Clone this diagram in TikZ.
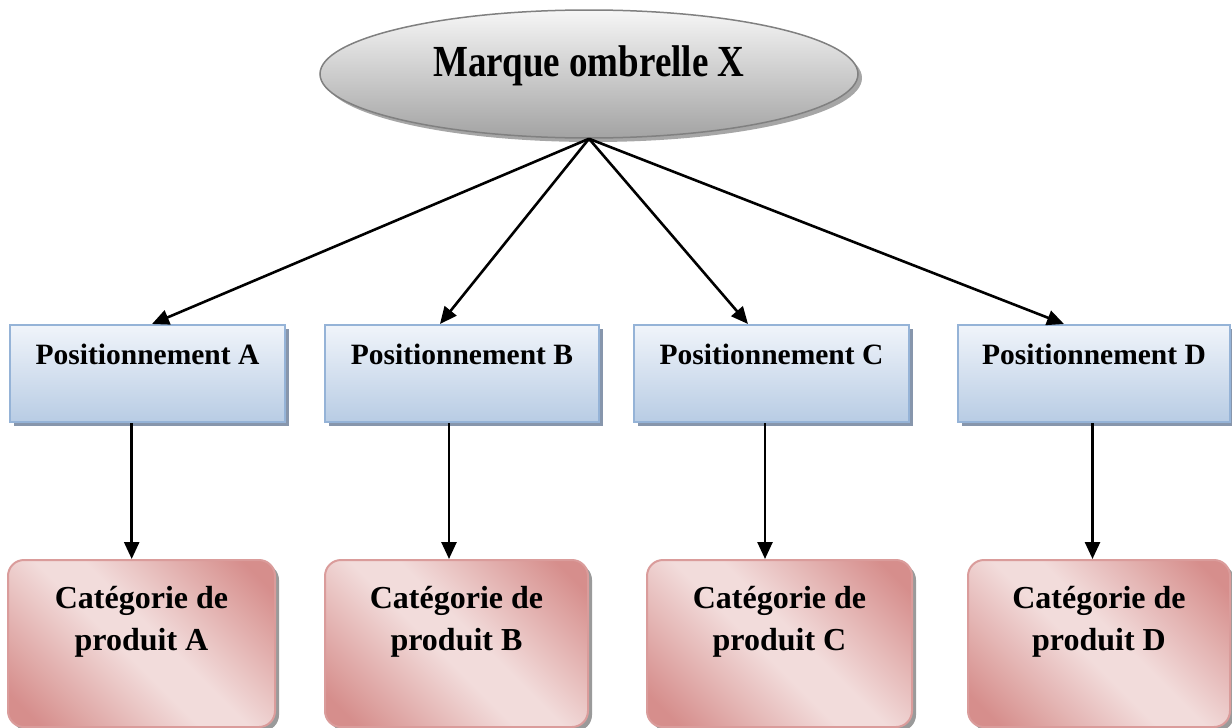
\documentclass[tikz,border=0pt]{standalone}
\usepackage{fontspec}
\usepackage{graphicx}
\setmainfont{Liberation Serif}
\usetikzlibrary{arrows.meta,shapes.geometric,shadows}
\definecolor{elltop}{HTML}{F6F6F6}
\definecolor{ellbot}{HTML}{A3A3A3}
\definecolor{ellline}{HTML}{808080}
\definecolor{postop}{HTML}{F0F4FA}
\definecolor{posbot}{HTML}{B8CCE4}
\definecolor{posline}{HTML}{95B3D7}
\definecolor{posshadow}{HTML}{8796AC}
\definecolor{catdark}{HTML}{D68E8C}
\definecolor{catlight}{HTML}{F2DCDB}
\definecolor{catline}{HTML}{DA9C9B}
\definecolor{catshadow}{HTML}{9A9A9A}
\pgfdeclarehorizontalshading{catshade}{100bp}{color(0bp)=(catdark); color(20bp)=(catdark); color(46bp)=(catlight); color(54bp)=(catlight); color(80bp)=(catdark); color(100bp)=(catdark)}
\tikzset{
  rootnode/.style={ellipse, draw=ellline, line width=1.5pt, top color=elltop, bottom color=ellbot,
    minimum width=538pt, minimum height=128pt, inner sep=0pt,
    drop shadow={shadow xshift=4pt, shadow yshift=-4pt, fill=gray!70, opacity=1}},
  posbox/.style={rectangle, draw=posline, line width=2pt, top color=postop, bottom color=posbot,
    minimum height=97pt, inner sep=0pt,
    drop shadow={shadow xshift=4pt, shadow yshift=-4pt, fill=posshadow, opacity=1}},
  catbox/.style={rectangle, rounded corners=16pt, draw=catline, line width=2pt,
    shading=catshade, shading angle=45,
    minimum height=167pt, inner sep=0pt,
    drop shadow={shadow xshift=4pt, shadow yshift=-4pt, fill=catshadow, opacity=1}},
  postext/.style={anchor=base, inner sep=0pt, font=\fontsize{29.5}{35}\selectfont\bfseries},
  cattext/.style={anchor=base, inner sep=0pt, align=center, font=\fontsize{32}{42}\selectfont\bfseries},
  roottext/.style={anchor=base, inner sep=0pt, font=\fontsize{37}{44}\selectfont\bfseries},
  arr/.style={line width=2.6pt, -{Triangle[length=17pt,width=15pt]}}
}
\begin{document}
\begin{tikzpicture}[x=1pt,y=-1pt]
\useasboundingbox (0,0) rectangle (1232,728);
% root
\node[rootnode] (root) at (589,74) {};
\node[roottext] (rootlbl) at (589,76) {\scalebox{1}[1.2]{Marque ombrelle X}};
% positioning boxes
\node[posbox, minimum width=275pt] (posA) at (147.5,373.5) {};
\node[posbox, minimum width=274pt] (posB) at (462,373.5) {};
\node[posbox, minimum width=275pt] (posC) at (771.5,373.5) {};
\node[posbox, minimum width=272pt] (posD) at (1094,373.5) {};
\node[postext] (lA) at (147.5,364) {Positionnement A};
\node[postext] (lB) at (462,364) {Positionnement B};
\node[postext] (lC) at (771.5,364) {Positionnement C};
\node[postext] (lD) at (1094,364) {Positionnement D};
% category boxes
\node[catbox, minimum width=267pt] (catA) at (141.5,643.5) {};
\node[catbox, minimum width=263pt] (catB) at (456.5,643.5) {};
\node[catbox, minimum width=265pt] (catC) at (779.5,643.5) {};
\node[catbox, minimum width=262pt] (catD) at (1099,643.5) {};
\node[cattext] (cA) at (141.5,650) {Catégorie de\\produit A};
\node[cattext] (cB) at (456.5,650) {Catégorie de\\produit B};
\node[cattext] (cC) at (779.5,650) {Catégorie de\\produit C};
\node[cattext] (cD) at (1099,650) {Catégorie de\\produit D};
% arrow targets
\coordinate (tA) at (152,324);
\coordinate (tB) at (440,324);
\coordinate (tC) at (748,324);
\coordinate (tD) at (1064,324);
\coordinate (xA) at (131.7,0);
\coordinate (xB) at (449,0);
\coordinate (xC) at (765,0);
\coordinate (xD) at (1092.5,0);
% connectors
\draw[arr] (root.south) -- (tA);
\draw[arr] (root.south) -- (tB);
\draw[arr] (root.south) -- (tC);
\draw[arr] (root.south) -- (tD);
\draw[arr] (posA.south -| xA) -- (catA.north -| xA);
\draw[arr] (posB.south -| xB) -- (catB.north -| xB);
\draw[arr] (posC.south -| xC) -- (catC.north -| xC);
\draw[arr] (posD.south -| xD) -- (catD.north -| xD);
\end{tikzpicture}
\end{document}
